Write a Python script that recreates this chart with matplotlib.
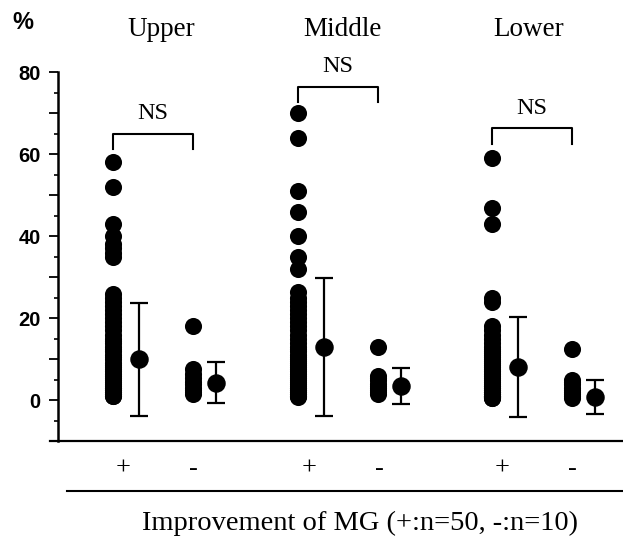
import matplotlib
matplotlib.use("Agg")
import matplotlib.pyplot as plt
from matplotlib.lines import Line2D
from matplotlib.ticker import MultipleLocator
import numpy as np

# regions
regions = ["Upper", "Middle", "Lower"]

# individual values (%), improvement + (n=50) and - (n=10)
upper_pos = [58, 52, 43, 40, 38, 37, 36, 35, 26, 25, 24, 23, 22, 21, 20, 19, 18, 17, 16, 15,
             14.5, 14, 13, 12.5, 12, 11, 10.5, 10, 9, 8.5, 8, 7.5, 7, 6.5, 6, 5.5, 5, 4.5, 4, 3.5,
             3, 3, 2.5, 2.5, 2, 2, 1.5, 1.5, 1, 1]
middle_pos = [70, 64, 51, 46, 40, 35, 32, 26.5, 25, 24, 23, 22, 21, 20, 19, 18, 17, 16, 15, 14,
              13, 12.5, 12, 11, 10.5, 10, 9.5, 9, 8.5, 8, 7.5, 7, 6.5, 6, 5.5, 5, 4.5, 4, 3.5, 3,
              3, 2.5, 2.5, 2, 2, 1.5, 1.5, 1, 1, 0.8]
lower_pos = [59, 47, 43, 25, 24, 18, 17, 16, 15, 14, 13, 12.5, 12, 11.5, 11, 10.5, 10, 9.5, 9, 8.5,
             8, 7.5, 7, 6.5, 6, 5.5, 5, 4.5, 4, 3.5, 3.5, 3, 3, 2.5, 2.5, 2, 2, 2, 1.5, 1.5,
             1.5, 1, 1, 1, 1, 0.8, 0.8, 0.8, 0.5, 0.5]
upper_neg = [18, 7.5, 6.5, 5.5, 4.5, 4, 3, 2.5, 2, 1.5]
middle_neg = [13, 6, 5.5, 5, 4, 3.5, 3, 2.5, 2, 1.5]
lower_neg = [12.5, 5, 4.5, 4, 3, 2.5, 2, 1.5, 1, 0.5]

# mean and SD
pos_mean = [10, 13, 8]
pos_sd = [13.8, 16.8, 12.2]
neg_mean = [4.3, 3.4, 0.8]
neg_sd = [5.1, 4.4, 4.2]

# NS bracket heights
bracket_y = [65, 76.5, 66.3]

pos_data = [upper_pos, middle_pos, lower_pos]
neg_data = [upper_neg, middle_neg, lower_neg]

serif = "Liberation Serif"
sans = "Liberation Sans"

fig = plt.figure(figsize=(6.23, 5.36), dpi=100)
ax = fig.add_axes([0.093, 0.177, 0.907, 0.692])

base = np.array([0.0, 0.975, 1.995])
off_pos_mean = 0.135
off_neg = 0.42
off_neg_mean = 0.54
ms = 12.3

for i in range(3):
    xp = base[i]
    xn = base[i] + off_neg
    ax.plot([xp] * len(pos_data[i]), pos_data[i], "o", color="black", ms=ms, mew=0)
    ax.plot([xn] * len(neg_data[i]), neg_data[i], "o", color="black", ms=ms, mew=0)
    ax.errorbar(xp + off_pos_mean, pos_mean[i], yerr=pos_sd[i], fmt="o", color="black",
                ms=ms, capsize=6.5, elinewidth=1.6, capthick=1.6)
    ax.errorbar(base[i] + off_neg_mean, neg_mean[i], yerr=neg_sd[i], fmt="o", color="black",
                ms=ms, capsize=6.5, elinewidth=1.6, capthick=1.6)
    # NS bracket
    b = bracket_y[i]
    ax.plot([xp, xp, xn, xn], [b - 3.8, b, b, b - 3.8], color="black", lw=1.5, clip_on=False)
    ax.text((xp + xn) / 2, b + 3.5, "NS", family=serif, fontsize=17.5,
            ha="center", va="baseline", clip_on=False)

ax.set_xlim(-0.289, 2.684)
ax.set_ylim(-10, 80.5)

ax.spines["top"].set_visible(False)
ax.spines["right"].set_visible(False)
ax.spines["left"].set_linewidth(1.8)
ax.spines["bottom"].set_linewidth(1.6)
ax.spines["left"].set_bounds(-10, 80)
ax.spines["bottom"].set_bounds(-0.33, 2.684)

ax.yaxis.set_minor_locator(MultipleLocator(5))
ax.set_yticks([-10, 0, 10, 20, 30, 40, 50, 60, 70, 80])
ax.set_yticklabels(["", "0", "", "20", "", "40", "", "60", "", "80"])
ax.tick_params(axis="y", which="major", direction="out", length=6.5, width=1.3, pad=6)
ax.tick_params(axis="y", which="minor", direction="out", length=3, width=1.2)
for lab in ax.get_yticklabels():
    lab.set_family(sans)
    lab.set_fontweight("bold")
    lab.set_fontsize(14.5)

# + / - labels under each group
xt = []
xl = []
for i in range(3):
    xt += [base[i] + 0.055, base[i] + 0.425]
    xl += ["+", "-"]
ax.set_xticks(xt)
ax.set_xticklabels(xl, family=serif, fontsize=19)
ax.tick_params(axis="x", length=0, pad=12)

fig.add_artist(Line2D([0.108, 1.0], [0.084, 0.084], color="black", lw=1.5))

fig.text(0.578, 0.012, "Improvement of MG (+:n=50, -:n=10)", family=serif, fontsize=20.5,
         ha="center", va="baseline")

title_x = [0.258, 0.549, 0.848]
for t, x in zip(regions, title_x):
    fig.text(x, 0.932, t, family=serif, fontsize=19.5, ha="center", va="baseline")
fig.text(0.036, 0.946, "%", family=sans, fontweight="bold", fontsize=17, ha="center",
         va="baseline")

fig.savefig("out.png", dpi=100)
